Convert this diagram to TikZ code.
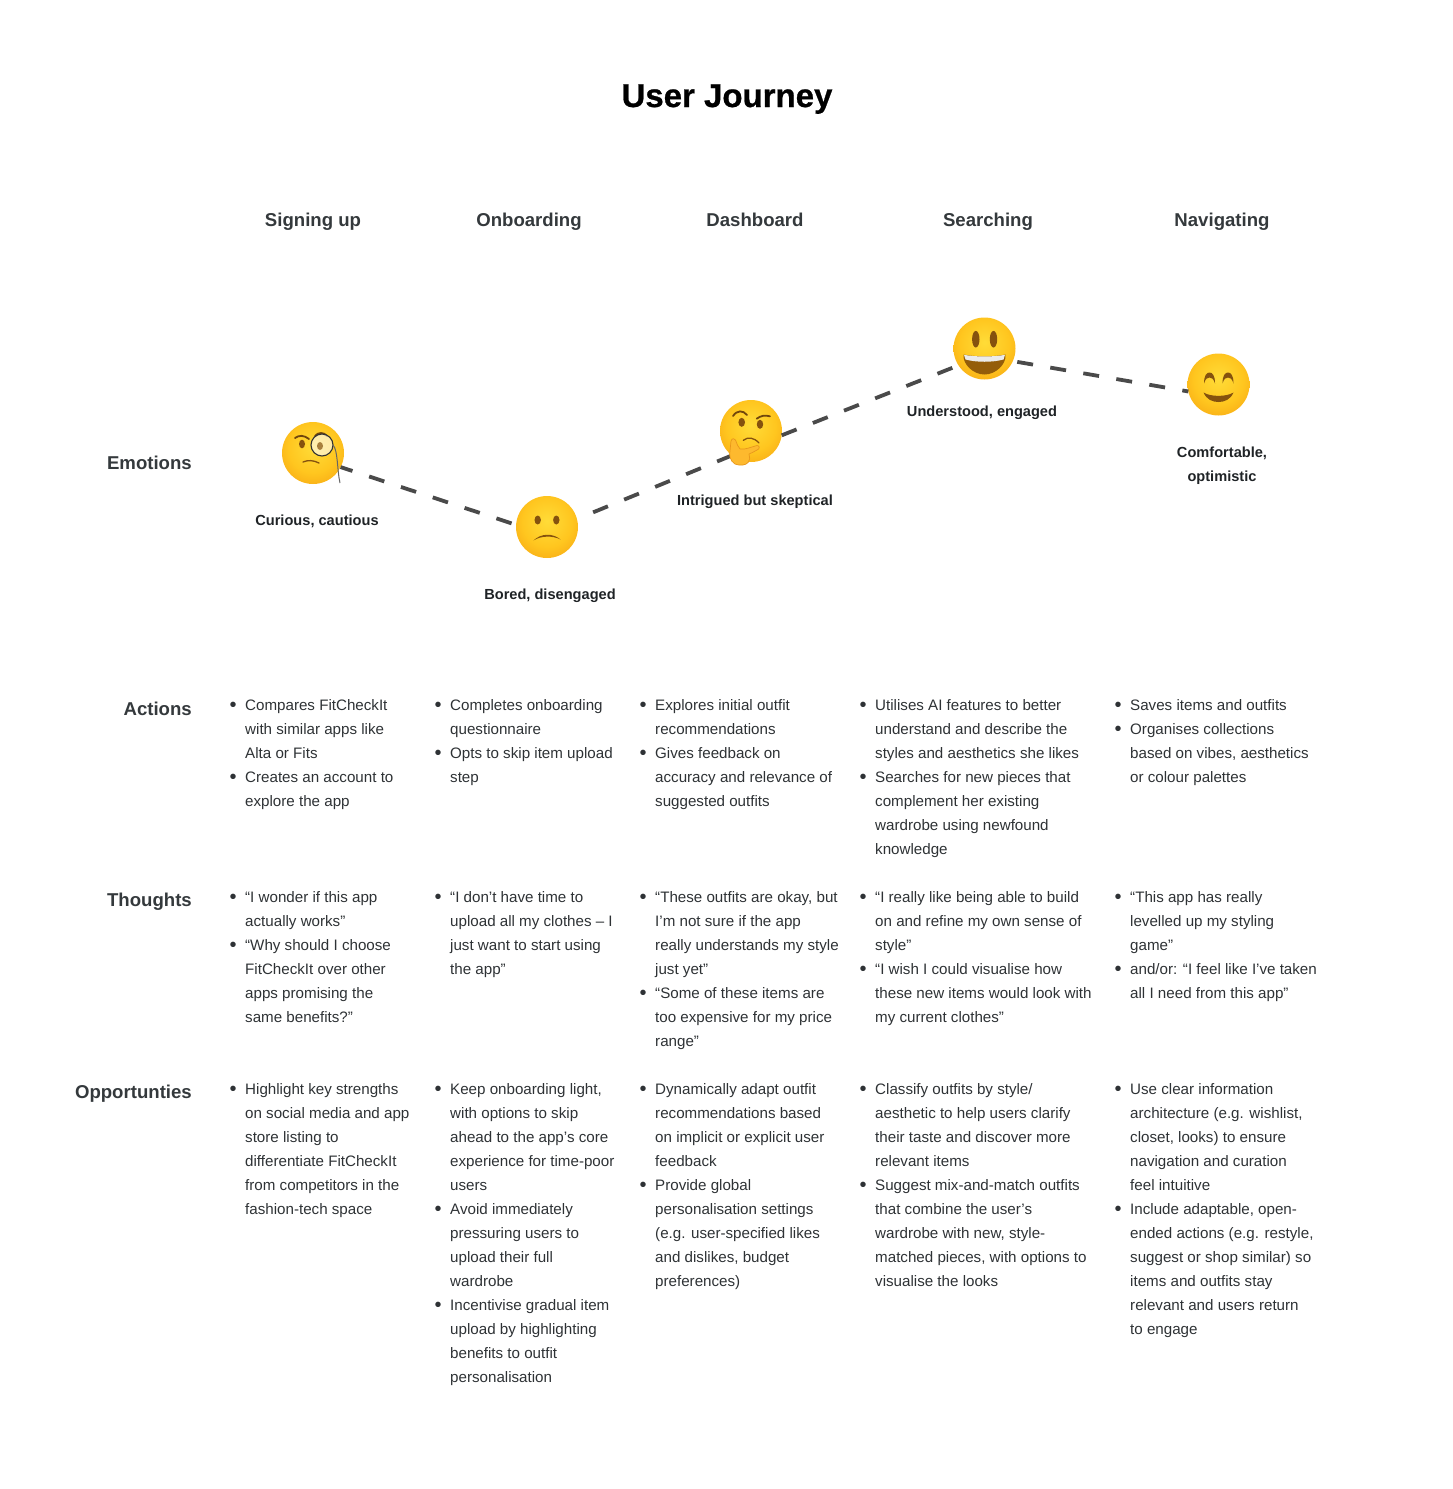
\documentclass[tikz,border=0pt]{standalone}
\usepackage{fontspec}
\setmainfont{Liberation Sans}
\newfontfamily\titlefont[FakeBold=.7]{Liberation Sans Bold}
\usetikzlibrary{arrows.meta,positioning}

\definecolor{inkdark}{HTML}{34393C}
\definecolor{inkbody}{HTML}{2E3235}
\definecolor{inklabel}{HTML}{1F2326}
\definecolor{moodgrey}{HTML}{4A4A4A}
\definecolor{facebrown}{HTML}{85520E}
\definecolor{mouthbrown}{HTML}{945D0A}
\definecolor{handfill}{HTML}{FDB92E}
\definecolor{handedge}{HTML}{E8971C}
\definecolor{facea}{HTML}{FFDC38}
\definecolor{faceb}{HTML}{FFC61F}
\definecolor{facec}{HTML}{F8AB15}
\definecolor{faced}{HTML}{E08A0E}
\pgfdeclareradialshading{facefill}{\pgfpoint{0bp}{5bp}}{%
  color(0bp)=(facea);
  color(20bp)=(faceb);
  color(33bp)=(facec);
  color(41bp)=(faced);
  color(100bp)=(faced)}

\tikzset{
  titlelabel/.style={font=\fontsize{33}{40}\selectfont\titlefont, text=black, inner sep=0pt, anchor=base},
  stagelabel/.style={font=\fontsize{18.6}{24}\selectfont\bfseries, text=inkdark, inner sep=0pt, anchor=base},
  rowlabel/.style={font=\fontsize{18.6}{24}\selectfont\bfseries, text=inkdark, inner sep=0pt, anchor=base east},
  moodlabel/.style={font=\fontsize{14.6}{24}\selectfont\bfseries, text=inklabel, inner sep=0pt, anchor=base, align=center},
  cell/.style={font=\fontsize{15.15}{24}\selectfont, text=inkbody, inner sep=0pt, anchor=north west, align=left},
  face/.style={circle, minimum size=62pt, inner sep=0pt, outer sep=0pt, shading=facefill},
  moodline/.style={draw=moodgrey, line width=3.8pt, dash pattern=on 16pt off 17.5pt},
  eye/.style={fill=facebrown, draw=none},
  brow/.style={draw=facebrown!85!black, line width=1.8pt, line cap=round},
}
\newcommand{\itm}{\strut\llap{\raisebox{-1.2pt}{\fontsize{20}{24}\selectfont\textbullet}\hspace{8.6pt}}}

\begin{document}
\begin{tikzpicture}[x=1pt,y=-1pt]
  \useasboundingbox (0,0) rectangle (1453,1489);

  % title and stages
  \node[titlelabel] (title) at (727,107) {User Journey};
  \node[stagelabel] (signing) at (313,226) {Signing up};
  \node[stagelabel] (onboarding) at (529,226) {Onboarding};
  \node[stagelabel] (dashboard) at (755,226) {Dashboard};
  \node[stagelabel] (searching) at (988,226) {Searching};
  \node[stagelabel] (navigating) at (1222,226) {Navigating};

  % rows
  \node[rowlabel] (emotions) at (192,469) {Emotions};
  \node[rowlabel] (actions) at (192,715) {Actions};
  \node[rowlabel] (thoughts) at (192,906) {Thoughts};
  \node[rowlabel] (opportunities) at (192,1098) {Opportunties};

  % emotion curve
  \node[face] (curious) at (313,453) {};
  \node[face] (bored) at (547,527) {};
  \node[face] (thinking) at (751,431) {};
  \node[face] (grinning) at (984.5,348.5) {};
  \node[face] (smiling) at (1218.5,384.5) {};

  \draw[moodline, dash phase=3.5pt] (curious.-27) -- (bored.176);
  \draw[moodline, dash phase=16pt] (bored.15) -- (thinking.232);
  \draw[moodline] (thinking.-8) -- (grinning.213);
  \draw[moodline, dash phase=29pt] (grinning.-24) -- (smiling.193);

  \node[moodlabel] (curioustext) at (317,525) {Curious, cautious};
  \node[moodlabel] (boredtext) at (550,599) {Bored, disengaged};
  \node[moodlabel] (thinkingtext) at (755,505) {Intrigued but skeptical};
  \node[moodlabel] (grinningtext) at (982,416) {Understood, engaged};
  \node[moodlabel, anchor=north] (smilingtext) at (1222,440.2) {\strut Comfortable,\\optimistic};

  % curious face
  \begin{scope}[shift={(curious)}]
    \fill[eye] (-11,-9) ellipse (3pt and 4.3pt);
    \draw[brow] (-18,-15) .. controls (-14,-18) and (-9,-18) .. (-4,-14);
    \draw[facebrown, line width=1.3pt, line cap=round] (-10,9) .. controls (-5,7) and (0,7) .. (6,10);
    \draw[brow] (2,-17) .. controls (5,-21) and (11,-21) .. (14,-17);
    \draw[fill=white, fill opacity=.6, draw=black!80, line width=1.1pt] (9,-8) circle (11pt);
    \fill[facebrown, opacity=.7] (7,-7) ellipse (3pt and 4pt);
    \draw[black!60, line width=1pt] (20,-8) .. controls (25,-3) and (24,17) .. (27,30);
  \end{scope}

  % bored face
  \begin{scope}[shift={(bored)}]
    \fill[eye] (-9.3,-7) ellipse (3.2pt and 4.5pt);
    \fill[eye] (9.3,-7) ellipse (3.2pt and 4.5pt);
    \fill[facebrown] (-13.5,13.5) .. controls (-6,6) and (6,6) .. (13.5,12.5)
      .. controls (6,8.5) and (-6,8.5) .. cycle;
  \end{scope}

  % thinking face
  \begin{scope}[shift={(thinking)}]
    \fill[eye] (-9.3,-8.7) ellipse (3.3pt and 4.5pt);
    \fill[eye] (9,-6.7) ellipse (3.2pt and 4.5pt);
    \draw[brow] (-18,-15) .. controls (-14,-21) and (-8,-21) .. (-4,-16);
    \draw[brow] (5.7,-12.3) .. controls (10,-15.5) and (14,-16) .. (19,-14.7);
    \draw[facebrown, line width=1.3pt, line cap=round] (-7.7,9.3) .. controls (-3,5.5) and (3,6.5) .. (8,12);
    \draw[fill=handfill, draw=handedge, line width=.7pt, line join=round]
      (-20,10) .. controls (-19,7) and (-16.5,7) .. (-15.5,9)
      .. controls (-14,13) and (-13,16) .. (-11,18)
      .. controls (-6,19) and (0,16) .. (6,14.5)
      .. controls (9,14.5) and (9,18) .. (6,19)
      .. controls (3,21) and (0,22) .. (-2,23)
      .. controls (-1,26) and (-1,29) .. (-2.5,31)
      .. controls (-5,34.5) and (-11,35) .. (-16,33)
      .. controls (-21,30) and (-22,24) .. (-21,20)
      .. controls (-20.5,16) and (-20.5,13) .. (-20,10) -- cycle;
  \end{scope}

  % grinning face
  \begin{scope}[shift={(grinning)}]
    \fill[eye] (-8.7,-9.3) ellipse (3.7pt and 8.3pt);
    \fill[eye] (9,-9.3) ellipse (3.7pt and 8.3pt);
    \fill[mouthbrown] (-21,6) .. controls (-10,8.5) and (10,8.5) .. (21,6)
      .. controls (22,16) and (11,26) .. (0,26) .. controls (-11,26) and (-22,16) .. (-21,6) -- cycle;
    \fill[white!92!black] (-20.5,6.3) .. controls (-10,8.5) and (10,8.5) .. (20.5,6.3)
      .. controls (20.5,8) and (20,9.5) .. (19,11)
      .. controls (8,14) and (-8,14) .. (-19,11)
      .. controls (-20,9.5) and (-20.5,8) .. (-20.5,6.3) -- cycle;
  \end{scope}

  % smiling face
  \begin{scope}[shift={(smiling)}]
    \fill[facebrown] (-14.5,-1) .. controls (-14.5,-9) and (-12,-12) .. (-9,-12)
      .. controls (-6,-12) and (-3.5,-9) .. (-3.5,-1)
      .. controls (-5,-6) and (-7,-7) .. (-9,-7) .. controls (-11,-7) and (-13,-6) .. (-14.5,-1) -- cycle;
    \fill[facebrown] (4,-1) .. controls (4,-9) and (6.5,-12) .. (9.5,-12)
      .. controls (12.5,-12) and (15,-9) .. (15,-1)
      .. controls (13.5,-6) and (11.5,-7) .. (9.5,-7) .. controls (7.5,-7) and (5.5,-6) .. (4,-1) -- cycle;
    \fill[facebrown] (-15,8) .. controls (-8,12.5) and (8,12.5) .. (15,8)
      .. controls (12,15) and (6,17.5) .. (0,17.5) .. controls (-6,17.5) and (-12,15) .. (-15,8) -- cycle;
  \end{scope}

  % actions
  \node[cell] (actionsa) at (245,693.2) {\itm Compares FitCheckIt\\with similar apps like\\Alta or Fits\\\itm Creates an account to\\explore the app};
  \node[cell] (actionsb) at (450,693.2) {\itm Completes onboarding\\questionnaire\\\itm Opts to skip item upload\\step};
  \node[cell] (actionsc) at (655,693.2) {\itm Explores initial outfit\\recommendations\\\itm Gives feedback on\\accuracy and relevance of\\suggested outfits};
  \node[cell] (actionsd) at (875,693.2) {\itm Utilises AI features to better\\understand and describe the\\styles and aesthetics she likes\\\itm Searches for new pieces that\\complement her existing\\wardrobe using newfound\\knowledge};
  \node[cell] (actionse) at (1130,693.2) {\itm Saves items and outfits\\\itm Organises collections\\based on vibes, aesthetics\\or colour palettes};

  % thoughts
  \node[cell] (thoughtsa) at (245,885.2) {\itm “I wonder if this app\\actually works”\\\itm “Why should I choose\\FitCheckIt over other\\apps promising the\\same benefits?”};
  \node[cell] (thoughtsb) at (450,885.2) {\itm “I don’t have time to\\upload all my clothes – I\\just want to start using\\the app”};
  \node[cell] (thoughtsc) at (655,885.2) {\itm “These outfits are okay, but\\I’m not sure if the app\\really understands my style\\just yet”\\\itm “Some of these items are\\too expensive for my price\\range”};
  \node[cell] (thoughtsd) at (875,885.2) {\itm “I really like being able to build\\on and refine my own sense of\\style”\\\itm “I wish I could visualise how\\these new items would look with\\my current clothes”};
  \node[cell] (thoughtse) at (1130,885.2) {\itm “This app has really\\levelled up my styling\\game”\\\itm and/or: “I feel like I’ve taken\\all I need from this app”};

  % opportunities
  \node[cell] (oppsa) at (245,1077.2) {\itm Highlight key strengths\\on social media and app\\store listing to\\differentiate FitCheckIt\\from competitors in the\\fashion-tech space};
  \node[cell] (oppsb) at (450,1077.2) {\itm Keep onboarding light,\\with options to skip\\ahead to the app’s core\\experience for time-poor\\users\\\itm Avoid immediately\\pressuring users to\\upload their full\\wardrobe\\\itm Incentivise gradual item\\upload by highlighting\\benefits to outfit\\personalisation};
  \node[cell] (oppsc) at (655,1077.2) {\itm Dynamically adapt outfit\\recommendations based\\on implicit or explicit user\\feedback\\\itm Provide global\\personalisation settings\\(e.g. user-specified likes\\and dislikes, budget\\preferences)};
  \node[cell] (oppsd) at (875,1077.2) {\itm Classify outfits by style/\\aesthetic to help users clarify\\their taste and discover more\\relevant items\\\itm Suggest mix-and-match outfits\\that combine the user’s\\wardrobe with new, style-\\matched pieces, with options to\\visualise the looks};
  \node[cell] (oppse) at (1130,1077.2) {\itm Use clear information\\architecture (e.g. wishlist,\\closet, looks) to ensure\\navigation and curation\\feel intuitive\\\itm Include adaptable, open-\\ended actions (e.g. restyle,\\suggest or shop similar) so\\items and outfits stay\\relevant and users return\\to engage};
\end{tikzpicture}
\end{document}
